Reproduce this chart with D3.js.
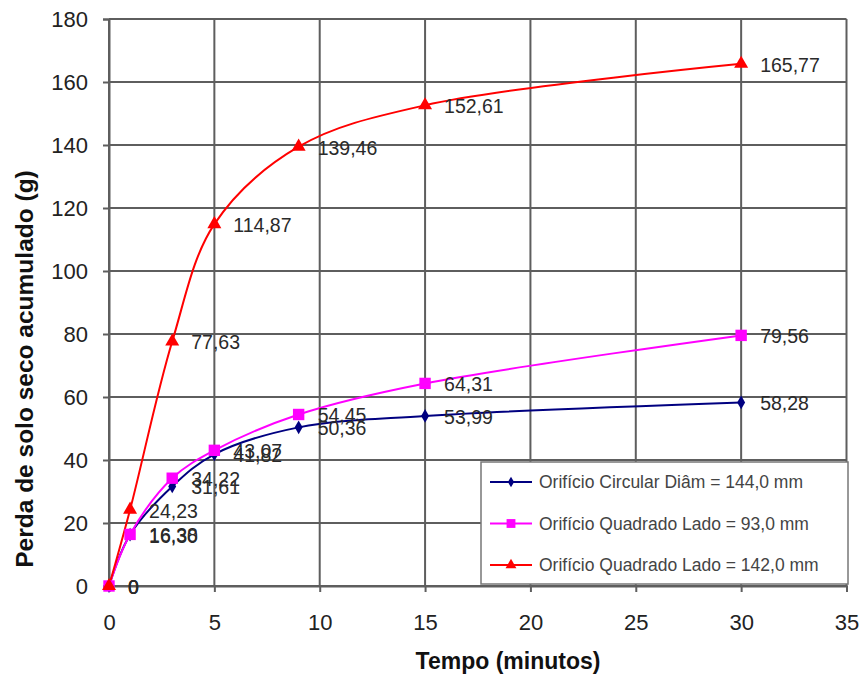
<!DOCTYPE html>
<html><head><meta charset="utf-8">
<script src="https://cdn.jsdelivr.net/npm/d3@7"></script>
<style>body{margin:0;background:#fff}svg{display:block;font-family:"Liberation Sans",Arial,sans-serif}</style>
</head><body><svg id="c" width="864" height="675"></svg>
<script>
const times = [0, 1, 3, 5, 9, 15, 30];
const circular144 = [0, 16.30, 31.61, 41.82, 50.36, 53.99, 58.28];
const quadrado93 = [0, 16.38, 34.22, 43.07, 54.45, 64.31, 79.56];
const quadrado142 = [0, 24.23, 77.63, 114.87, 139.46, 152.61, 165.77];
const seriesNames = ["Orifício Circular Diâm = 144,0 mm", "Orifício Quadrado  Lado = 93,0 mm", "Orifício Quadrado  Lado = 142,0 mm"];
const xTicks = [0, 5, 10, 15, 20, 25, 30, 35];
const yTicks = [0, 20, 40, 60, 80, 100, 120, 140, 160, 180];

const series = [
  {name: seriesNames[0], values: circular144, color: "#000080", shape: d3.symbolDiamond, size: 55},
  {name: seriesNames[1], values: quadrado93, color: "#ff00ff", shape: d3.symbolSquare, size: 130},
  {name: seriesNames[2], values: quadrado142, color: "#ff0000", shape: d3.symbolTriangle, size: 85}
];

const svg = d3.select("#c");
const L = 109, R = 846.5, T = 19, B = 586;
const x = d3.scaleLinear().domain([0, 35]).range([L, R]);
const y = d3.scaleLinear().domain([0, 180]).range([B, T]);
const gridCol = "#5e5e5e";

// grid
const g = svg.append("g");
g.selectAll(".gy").data(yTicks).join("line")
  .attr("x1", L).attr("x2", R).attr("y1", d => y(d)).attr("y2", d => y(d))
  .attr("stroke", gridCol).attr("stroke-width", 2);
g.selectAll(".gx").data(xTicks).join("line")
  .attr("y1", T).attr("y2", B).attr("x1", d => x(d)).attr("x2", d => x(d))
  .attr("stroke", gridCol).attr("stroke-width", 2);

// axes
const xAxis = d3.axisBottom(x).tickValues(xTicks).tickSize(6).tickPadding(22).tickFormat(d3.format("d"));
const yAxis = d3.axisLeft(y).tickValues(yTicks).tickSize(6).tickPadding(15).tickFormat(d3.format("d"));
const gx = svg.append("g").attr("transform", `translate(0,${B})`).call(xAxis);
const gy = svg.append("g").attr("transform", `translate(${L},0)`).call(yAxis);
[gx, gy].forEach(a => {
  a.select(".domain").attr("stroke", gridCol).attr("stroke-width", 2);
  a.selectAll(".tick line").attr("stroke", gridCol).attr("stroke-width", 2);
  a.selectAll(".tick text").attr("font-size", 22).attr("fill", "#222").attr("font-family", "Liberation Sans, Arial, sans-serif");
});

// axis titles
svg.append("text").attr("x", 508).attr("y", 669).attr("text-anchor", "middle")
  .attr("font-size", 23).attr("font-weight", "bold").attr("fill", "#111").text("Tempo (minutos)");
svg.append("text").attr("transform", `translate(33,${369}) rotate(-90)`).attr("text-anchor", "middle")
  .attr("font-size", 24.5).attr("font-weight", "bold").attr("fill", "#111").text("Perda de solo seco acumulado (g)");

// lines
const line = d3.line().x((d, i) => x(times[i])).y(d => y(d)).curve(d3.curveCatmullRom.alpha(0.5));
series.forEach(s => {
  svg.append("path").attr("d", line(s.values)).attr("fill", "none").attr("stroke", s.color).attr("stroke-width", 2);
});
series.forEach(s => {
  svg.append("g").selectAll("path").data(s.values).join("path")
    .attr("transform", (d, i) => `translate(${x(times[i])},${y(d)})`)
    .attr("d", d3.symbol().type(s.shape).size(s.size)).attr("fill", s.color);
});
// labels
const fmt = v => v === 0 ? "0" : d3.format(".2f")(v).replace(".", ",");
series.forEach(s => {
  svg.append("g").selectAll("text").data(s.values).join("text")
    .attr("x", (d, i) => x(times[i]) + 19).attr("y", d => y(d) + 8)
    .attr("font-size", 19.5).attr("fill", "#2a2a2a").text(d => fmt(d));
});

// legend
const lg = svg.append("g").attr("transform", "translate(481,462)");
lg.append("rect").attr("width", 367).attr("height", 122).attr("fill", "#fff").attr("stroke", "#777").attr("stroke-width", 1.5);
series.forEach((s, i) => {
  const yy = 20 + i * 41.5;
  lg.append("line").attr("x1", 9).attr("x2", 51).attr("y1", yy).attr("y2", yy).attr("stroke", s.color).attr("stroke-width", 2);
  lg.append("path").attr("transform", `translate(30,${yy})`).attr("d", d3.symbol().type(s.shape).size(s.size * 0.6)).attr("fill", s.color);
  lg.append("text").attr("x", 58).attr("y", yy + 6).attr("font-size", 17.5).attr("fill", "#444").text(s.name);
});
</script></body></html>
